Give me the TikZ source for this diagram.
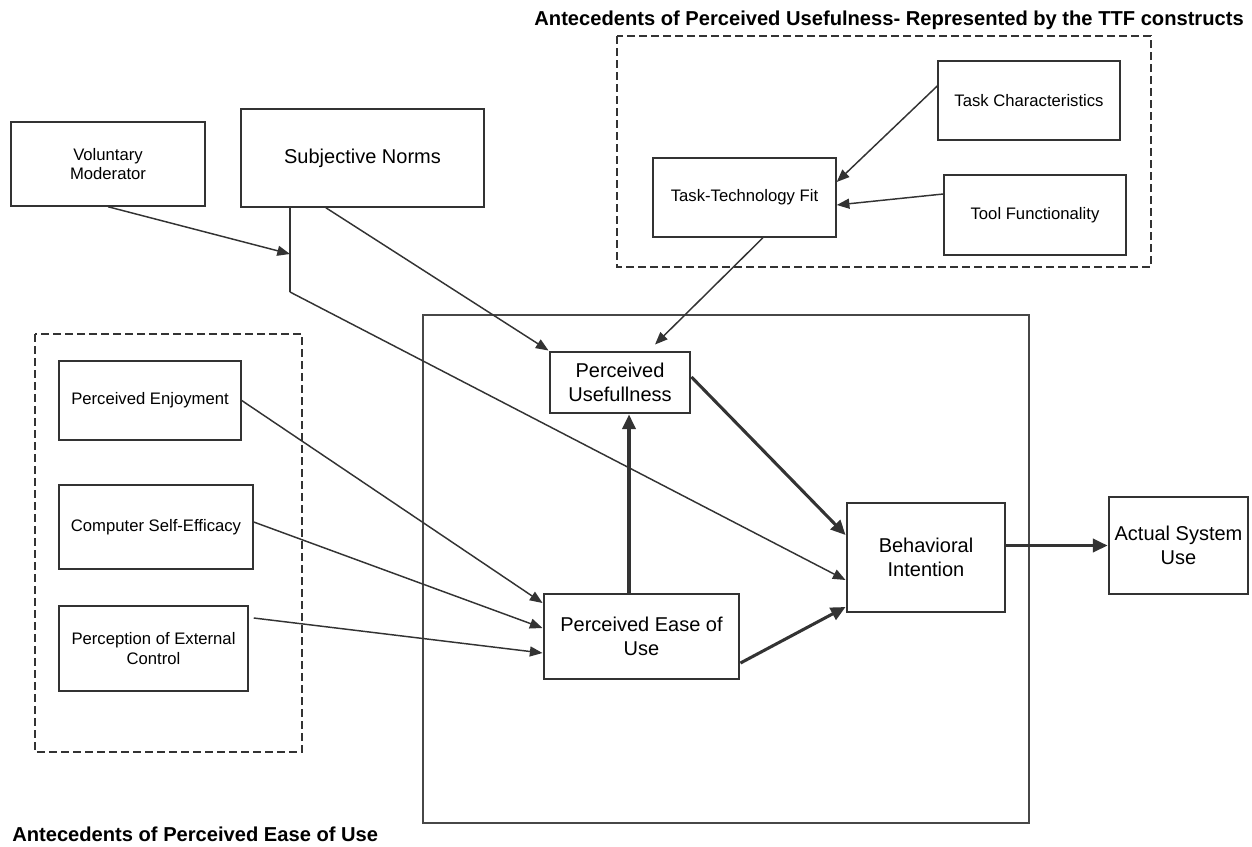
\documentclass[tikz,border=0pt]{standalone}
\usepackage{fontspec}
\setmainfont{Liberation Sans}
\usetikzlibrary{arrows.meta,calc}
\definecolor{ink}{HTML}{333333}
\begin{document}
\begin{tikzpicture}[x=0.75pt,y=-0.75pt,
  size/.style 2 args={minimum width=#1*0.75pt, minimum height=#2*0.75pt},
  box/.style={draw=ink, line width=1.1pt, rectangle, inner sep=1pt, align=center,
    font=\fontsize{12.5}{14.5}\selectfont},
  bigbox/.style={box, font=\fontsize{15}{17.5}\selectfont},
  corebox/.style={bigbox, line width=2.2pt},
  group/.style={draw=ink, line width=1.1pt, dash pattern=on 6pt off 3pt},
  frame/.style={draw=ink!90, line width=1.1pt},
  title/.style={font=\fontsize{15.1}{17}\selectfont\bfseries, inner sep=0pt},
  thin/.style={draw=ink, line width=1.1pt, -{Triangle[length=9.5pt,width=7.5pt]}},
  thinline/.style={draw=ink, line width=1.1pt},
  thick/.style={draw=ink, line width=2.3pt, -{Triangle[length=11pt,width=10pt]}}
]
\useasboundingbox (0,0) rectangle (1252,846);

% group frames
\draw[group] (35,334) rectangle (302,752);
\draw[group] (617,36) rectangle (1151,267);
\draw[frame] (423,315) rectangle (1029,823);

% titles
\node[title, anchor=base east] (ttlU) at (1244,25)
  {Antecedents of Perceived Usefulness- Represented by the TTF constructs};
\node[title, anchor=base west] (ttlE) at (12,841)
  {Antecedents of Perceived Ease of Use};

% external constructs
\node[box, size={194}{84}] (vm) at (108,164) {Voluntary\\Moderator};
\node[bigbox, size={243}{98}] (sn) at (362.5,158) {Subjective Norms};

\node[box, size={182}{79}] (pe) at (150,400.5) {Perceived Enjoyment};
\node[box, size={194}{84}] (cse) at (156,527) {Computer Self-Efficacy};
\node[box, size={189}{85}] (pec) at (153.5,648.5) {Perception of External\\Control};

\node[box, size={182}{79}] (tc) at (1029,100.5) {Task Characteristics};
\node[box, size={183}{79}] (ttf) at (744.5,197.5) {Task-Technology Fit};
\node[box, size={182}{80}] (tf) at (1035,215) {Tool Functionality};

% core TAM constructs
\node[corebox, size={140}{61}] (pu) at (620,382.5) {Perceived\\Usefullness};
\node[corebox, size={195}{85}] (peu) at (641.5,636.5) {Perceived Ease of\\Use};
\node[corebox, size={158}{109}] (bi) at (926,557.5) {Behavioral\\Intention};
\node[corebox, size={139}{97}] (asu) at (1178.5,545.5) {Actual System\\Use};

% moderated path from subjective norms
\coordinate (j1) at (290,254);
\coordinate (j2) at (290,292);
\draw[thin] (vm.south) -- (j1);
\draw[thinline] (sn.south west -| j1) -- (j2);
\draw[thin] (j2) -- ($(bi.west)+(0,22.5)$);
\draw[thin] ($(sn.south west)!0.35!(sn.south east)$) -- (pu.north west);

% TTF antecedents
\draw[thin] ($(tc.west)+(0,-14.5)$) -- ($(ttf.east)+(0,-15.5)$);
\draw[thin] ($(tf.west)+(0,-21)$) -- ($(ttf.east)+(0,7.5)$);
\draw[thin] ($(ttf.south west)!0.6!(ttf.south east)$) -- ($(pu.north)+(35,-6)$);

% ease-of-use antecedents
\draw[thin] (pe.east) -- ($(peu.west)+(0,-33.5)$);
\draw[thin] ($(cse.east)+(0,-5)$) -- ($(peu.west)+(0,-8.5)$);
\draw[thin] ($(pec.east)+(5,-30.5)$) -- ($(peu.west)+(0,16.5)$);

% TAM core relations
\draw[thick] ($(peu.north)+(-12.5,0)$) -- ($(pu.south)+(9,0)$);
\draw[thick] ($(pu.east)+(0,-5.5)$) -- ($(bi.west)+(0,-22.5)$);
\draw[thick] ($(peu.east)+(0,26.5)$) -- ($(bi.west)+(0,49.5)$);
\draw[thick] ($(bi.east)+(0,-12)$) -- (asu.west);
\end{tikzpicture}
\end{document}
